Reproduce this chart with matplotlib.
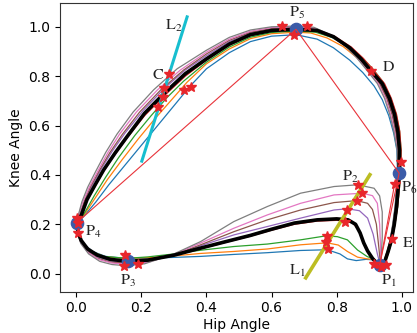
import matplotlib
matplotlib.use("Agg")
import matplotlib.pyplot as plt

plt.rcParams['mathtext.fontset'] = 'stix'

# ---------------- data ----------------
mean_x = [0.935, 0.948, 0.958, 0.968, 0.977, 0.984, 0.989, 0.992, 0.993, 0.988, 0.978, 0.962, 0.940, 0.905, 0.875, 0.840, 0.790, 0.740, 0.675, 0.600, 0.535, 0.470, 0.400, 0.335, 0.270, 0.210, 0.156, 0.120, 0.084, 0.058, 0.033, 0.015, 0.003, 0.005, 0.015, 0.035, 0.065, 0.105, 0.160, 0.220, 0.300, 0.380, 0.460, 0.535, 0.600, 0.670, 0.740, 0.800, 0.835, 0.858, 0.872, 0.883, 0.895, 0.910, 0.925, 0.935]
mean_y = [0.028, 0.050, 0.090, 0.135, 0.200, 0.270, 0.350, 0.420, 0.500, 0.575, 0.645, 0.710, 0.770, 0.822, 0.870, 0.915, 0.960, 0.985, 0.990, 0.985, 0.968, 0.930, 0.870, 0.810, 0.730, 0.650, 0.555, 0.490, 0.420, 0.360, 0.300, 0.235, 0.205, 0.170, 0.135, 0.100, 0.075, 0.058, 0.050, 0.055, 0.075, 0.103, 0.130, 0.155, 0.180, 0.205, 0.218, 0.222, 0.218, 0.200, 0.165, 0.125, 0.092, 0.062, 0.040, 0.028]

blue_x = [0.935, 0.946, 0.956, 0.965, 0.973, 0.980, 0.985, 0.987, 0.985, 0.975, 0.960, 0.940, 0.915, 0.880, 0.840, 0.790, 0.740, 0.675, 0.600, 0.535, 0.470, 0.400, 0.350, 0.300, 0.250, 0.200, 0.150, 0.100, 0.060, 0.025, 0.005, 0.006, 0.020, 0.050, 0.090, 0.155, 0.220, 0.300, 0.382, 0.484, 0.587, 0.689, 0.771, 0.810, 0.833, 0.860, 0.890, 0.915, 0.935]
blue_y = [0.030, 0.050, 0.090, 0.135, 0.200, 0.270, 0.350, 0.420, 0.500, 0.570, 0.640, 0.705, 0.760, 0.815, 0.865, 0.915, 0.950, 0.968, 0.962, 0.940, 0.895, 0.830, 0.760, 0.680, 0.600, 0.520, 0.440, 0.360, 0.290, 0.235, 0.205, 0.170, 0.125, 0.090, 0.070, 0.062, 0.063, 0.066, 0.070, 0.078, 0.085, 0.094, 0.097, 0.080, 0.060, 0.053, 0.058, 0.056, 0.030]

orange_x = [0.935, 0.947, 0.957, 0.967, 0.975, 0.982, 0.988, 0.991, 0.991, 0.984, 0.972, 0.955, 0.932, 0.900, 0.865, 0.820, 0.770, 0.720, 0.675, 0.600, 0.535, 0.470, 0.400, 0.340, 0.290, 0.240, 0.190, 0.140, 0.095, 0.055, 0.025, 0.005, 0.006, 0.020, 0.050, 0.090, 0.155, 0.220, 0.300, 0.382, 0.484, 0.587, 0.689, 0.771, 0.805, 0.833, 0.864, 0.894, 0.915, 0.935]
orange_y = [0.030, 0.050, 0.090, 0.135, 0.200, 0.270, 0.350, 0.420, 0.500, 0.575, 0.645, 0.710, 0.770, 0.825, 0.872, 0.920, 0.955, 0.975, 0.978, 0.972, 0.952, 0.910, 0.850, 0.775, 0.700, 0.625, 0.545, 0.460, 0.380, 0.300, 0.240, 0.205, 0.165, 0.122, 0.088, 0.068, 0.062, 0.065, 0.072, 0.082, 0.090, 0.100, 0.117, 0.125, 0.116, 0.090, 0.067, 0.060, 0.058, 0.030]

green_x = [0.935, 0.950, 0.960, 0.970, 0.979, 0.987, 0.993, 0.997, 0.998, 0.993, 0.982, 0.965, 0.943, 0.912, 0.878, 0.835, 0.785, 0.735, 0.675, 0.600, 0.535, 0.470, 0.400, 0.330, 0.280, 0.230, 0.180, 0.130, 0.090, 0.055, 0.025, 0.005, 0.005, 0.018, 0.045, 0.085, 0.155, 0.220, 0.300, 0.382, 0.484, 0.587, 0.689, 0.766, 0.802, 0.833, 0.864, 0.894, 0.915, 0.935]
green_y = [0.030, 0.050, 0.090, 0.135, 0.200, 0.270, 0.350, 0.420, 0.500, 0.580, 0.650, 0.715, 0.775, 0.828, 0.875, 0.922, 0.957, 0.978, 0.983, 0.977, 0.958, 0.918, 0.857, 0.780, 0.715, 0.640, 0.560, 0.470, 0.390, 0.315, 0.245, 0.205, 0.165, 0.123, 0.090, 0.070, 0.062, 0.068, 0.080, 0.095, 0.110, 0.120, 0.137, 0.153, 0.150, 0.137, 0.096, 0.069, 0.060, 0.030]

red_x = [0.935, 0.950, 0.960, 0.970, 0.979, 0.987, 0.993, 0.997, 0.998, 0.994, 0.984, 0.968, 0.947, 0.913, 0.882, 0.845, 0.793, 0.740, 0.675, 0.600, 0.535, 0.470, 0.400, 0.335, 0.270, 0.210, 0.156, 0.120, 0.084, 0.058, 0.033, 0.015, 0.003, 0.005, 0.015, 0.035, 0.065, 0.105, 0.160, 0.220, 0.300, 0.380, 0.460, 0.535, 0.600, 0.670, 0.740, 0.800, 0.823, 0.850, 0.868, 0.880, 0.892, 0.908, 0.923, 0.935]
red_y = [0.028, 0.050, 0.090, 0.135, 0.200, 0.270, 0.350, 0.420, 0.500, 0.575, 0.645, 0.710, 0.770, 0.825, 0.872, 0.918, 0.962, 0.985, 0.988, 0.983, 0.965, 0.925, 0.865, 0.800, 0.720, 0.640, 0.550, 0.485, 0.415, 0.355, 0.295, 0.232, 0.205, 0.170, 0.135, 0.100, 0.073, 0.056, 0.048, 0.053, 0.073, 0.100, 0.127, 0.152, 0.176, 0.200, 0.213, 0.216, 0.214, 0.205, 0.175, 0.130, 0.095, 0.062, 0.040, 0.028]

purple_x = [0.935, 0.947, 0.957, 0.966, 0.975, 0.982, 0.987, 0.990, 0.990, 0.983, 0.972, 0.956, 0.934, 0.900, 0.868, 0.830, 0.780, 0.730, 0.675, 0.600, 0.535, 0.470, 0.400, 0.335, 0.270, 0.205, 0.150, 0.110, 0.077, 0.050, 0.028, 0.012, 0.003, 0.005, 0.015, 0.035, 0.065, 0.105, 0.160, 0.220, 0.300, 0.382, 0.484, 0.587, 0.689, 0.792, 0.833, 0.870, 0.895, 0.912, 0.925, 0.935]
purple_y = [0.030, 0.050, 0.090, 0.135, 0.200, 0.270, 0.350, 0.420, 0.500, 0.575, 0.645, 0.710, 0.770, 0.825, 0.875, 0.920, 0.965, 0.990, 0.995, 0.990, 0.975, 0.940, 0.883, 0.825, 0.750, 0.660, 0.570, 0.495, 0.425, 0.360, 0.300, 0.240, 0.205, 0.168, 0.130, 0.095, 0.068, 0.052, 0.045, 0.052, 0.075, 0.113, 0.157, 0.191, 0.225, 0.258, 0.263, 0.255, 0.225, 0.160, 0.080, 0.030]

brown_x = [0.935, 0.946, 0.956, 0.965, 0.974, 0.981, 0.986, 0.989, 0.989, 0.981, 0.970, 0.954, 0.932, 0.898, 0.866, 0.828, 0.778, 0.730, 0.675, 0.600, 0.535, 0.470, 0.400, 0.330, 0.260, 0.195, 0.142, 0.103, 0.072, 0.045, 0.025, 0.010, 0.003, 0.004, 0.014, 0.035, 0.065, 0.105, 0.160, 0.220, 0.300, 0.382, 0.484, 0.587, 0.689, 0.792, 0.862, 0.895, 0.910, 0.922, 0.930, 0.935]
brown_y = [0.030, 0.050, 0.090, 0.135, 0.200, 0.270, 0.350, 0.420, 0.500, 0.575, 0.645, 0.710, 0.770, 0.825, 0.875, 0.923, 0.968, 0.993, 0.998, 0.993, 0.978, 0.945, 0.890, 0.825, 0.745, 0.655, 0.565, 0.490, 0.420, 0.355, 0.295, 0.240, 0.205, 0.167, 0.128, 0.090, 0.063, 0.047, 0.042, 0.050, 0.076, 0.117, 0.170, 0.218, 0.258, 0.288, 0.296, 0.285, 0.260, 0.200, 0.100, 0.030]

pink_x = [0.935, 0.946, 0.955, 0.964, 0.973, 0.980, 0.985, 0.988, 0.987, 0.978, 0.966, 0.950, 0.928, 0.895, 0.862, 0.825, 0.775, 0.730, 0.675, 0.600, 0.535, 0.470, 0.400, 0.320, 0.250, 0.185, 0.133, 0.097, 0.066, 0.040, 0.020, 0.007, 0.003, 0.004, 0.014, 0.037, 0.070, 0.110, 0.160, 0.220, 0.300, 0.382, 0.484, 0.587, 0.689, 0.792, 0.879, 0.910, 0.925, 0.932, 0.935, 0.935]
pink_y = [0.030, 0.050, 0.090, 0.135, 0.200, 0.270, 0.350, 0.420, 0.500, 0.575, 0.645, 0.710, 0.770, 0.825, 0.875, 0.925, 0.970, 0.995, 1.000, 0.997, 0.982, 0.950, 0.897, 0.825, 0.745, 0.655, 0.565, 0.490, 0.415, 0.350, 0.290, 0.235, 0.205, 0.166, 0.125, 0.085, 0.057, 0.043, 0.038, 0.046, 0.078, 0.124, 0.184, 0.238, 0.285, 0.319, 0.326, 0.316, 0.285, 0.200, 0.100, 0.030]

gray_x = [0.935, 0.945, 0.955, 0.964, 0.972, 0.979, 0.984, 0.987, 0.986, 0.976, 0.963, 0.947, 0.925, 0.892, 0.860, 0.822, 0.772, 0.730, 0.675, 0.600, 0.535, 0.470, 0.400, 0.310, 0.238, 0.175, 0.125, 0.090, 0.060, 0.035, 0.017, 0.006, 0.003, 0.004, 0.014, 0.038, 0.072, 0.110, 0.155, 0.210, 0.300, 0.382, 0.484, 0.587, 0.689, 0.792, 0.864, 0.915, 0.932, 0.940, 0.940, 0.937, 0.935]
gray_y = [0.030, 0.050, 0.090, 0.135, 0.200, 0.270, 0.350, 0.420, 0.500, 0.575, 0.645, 0.710, 0.770, 0.825, 0.877, 0.928, 0.973, 0.998, 1.003, 1.000, 0.987, 0.957, 0.905, 0.830, 0.745, 0.655, 0.565, 0.490, 0.415, 0.350, 0.290, 0.235, 0.205, 0.165, 0.122, 0.080, 0.050, 0.037, 0.032, 0.040, 0.080, 0.130, 0.211, 0.272, 0.326, 0.353, 0.360, 0.346, 0.315, 0.250, 0.150, 0.070, 0.030]

# key points P1, P3, P4, P5, P6
key_x = [0.932, 0.159, 0.002, 0.675, 0.992]
key_y = [0.035, 0.053, 0.207, 0.990, 0.407]

# control polygon  P4 -> P5 -> P6 -> P1
poly_x = [0.002, 0.675, 0.992, 0.932]
poly_y = [0.207, 0.990, 0.407, 0.035]
poly2_x = [0.978, 0.932]
poly2_y = [0.362, 0.035]

# red star events
star_x = [0.284, 0.269, 0.266, 0.250, 0.330, 0.351,
          0.633, 0.669, 0.710, 0.905,
          0.999, 0.978, 0.969,
          0.915, 0.935, 0.951,
          0.864, 0.879, 0.862, 0.831, 0.826, 0.771, 0.768, 0.774,
          0.151, 0.146, 0.190,
          0.002, 0.006, 0.004]
star_y = [0.810, 0.751, 0.717, 0.677, 0.745, 0.758,
          1.002, 0.968, 1.002, 0.822,
          0.452, 0.363, 0.139,
          0.038, 0.026, 0.035,
          0.360, 0.326, 0.296, 0.258, 0.211, 0.153, 0.130, 0.099,
          0.076, 0.030, 0.040,
          0.225, 0.165, 0.204]

# reference lines
L1_x = [0.702, 0.905]
L1_y = [-0.023, 0.407]
L2_x = [0.200, 0.342]
L2_y = [0.450, 1.046]

labels = [r'$\mathrm{L}_2$', r'$\mathrm{C}$', r'$\mathrm{P}_5$', r'$\mathrm{D}$', r'$\mathrm{P}_6$',
          r'$\mathrm{E}$', r'$\mathrm{P}_1$', r'$\mathrm{L}_1$', r'$\mathrm{P}_2$', r'$\mathrm{P}_3$', r'$\mathrm{P}_4$']
label_x = [0.300, 0.251, 0.677, 0.958, 1.022, 1.020, 0.960, 0.680, 0.843, 0.158, 0.052]
label_y = [1.002, 0.805, 1.055, 0.839, 0.347, 0.128, -0.030, 0.011, 0.392, -0.028, 0.169]

xticks = [0.0, 0.2, 0.4, 0.6, 0.8, 1.0]
yticks = [0.0, 0.2, 0.4, 0.6, 0.8, 1.0]

# ---------------- drawing ----------------
fig = plt.figure(figsize=(4.17, 3.33), dpi=100)
ax = fig.add_axes([0.1446, 0.124, 0.847, 0.866])

curves = [(blue_x, blue_y, '#1f77b4'), (orange_x, orange_y, '#ff7f0e'),
          (green_x, green_y, '#2ca02c'), (red_x, red_y, '#d62728'),
          (purple_x, purple_y, '#9467bd'), (brown_x, brown_y, '#8c564b'),
          (pink_x, pink_y, '#e377c2'), (gray_x, gray_y, '#7f7f7f')]
for cx, cy, col in curves:
    ax.plot(cx, cy, color=col, lw=0.9, zorder=2)

ax.plot(mean_x, mean_y, color='black', lw=2.6, zorder=3, solid_joinstyle='round')

ax.plot(L1_x, L1_y, color='#bcbd22', lw=2.6, zorder=4, solid_capstyle='butt')
ax.plot(L2_x, L2_y, color='#17becf', lw=2.2, zorder=4, solid_capstyle='butt')

ax.plot(key_x, key_y, 'o', color='#3b5ba8', ms=8.8, zorder=5, linestyle='none')
ax.plot(poly_x, poly_y, color='#e8333a', lw=0.8, zorder=6)
ax.plot(poly2_x, poly2_y, color='#e8333a', lw=0.8, zorder=6)
ax.plot(star_x, star_y, '*', color='#e8262b', ms=7, zorder=7, linestyle='none')

for t, lx, ly in zip(labels, label_x, label_y):
    ax.text(lx, ly, t, fontsize=11.5, ha='center', va='center', color='#222222', zorder=8)

ax.set_xlim(-0.049, 1.036)
ax.set_ylim(-0.073, 1.095)
ax.set_xticks(xticks)
ax.set_yticks(yticks)
ax.set_xticklabels([f'{v:.1f}' for v in xticks])
ax.set_yticklabels([f'{v:.1f}' for v in yticks])
ax.tick_params(labelsize=10)
ax.set_xlabel('Hip Angle', fontsize=10, labelpad=2)
ax.set_ylabel('Knee Angle', fontsize=10, labelpad=4)
for s in ax.spines.values():
    s.set_color('#333333')

fig.savefig('out.png', dpi=100)
